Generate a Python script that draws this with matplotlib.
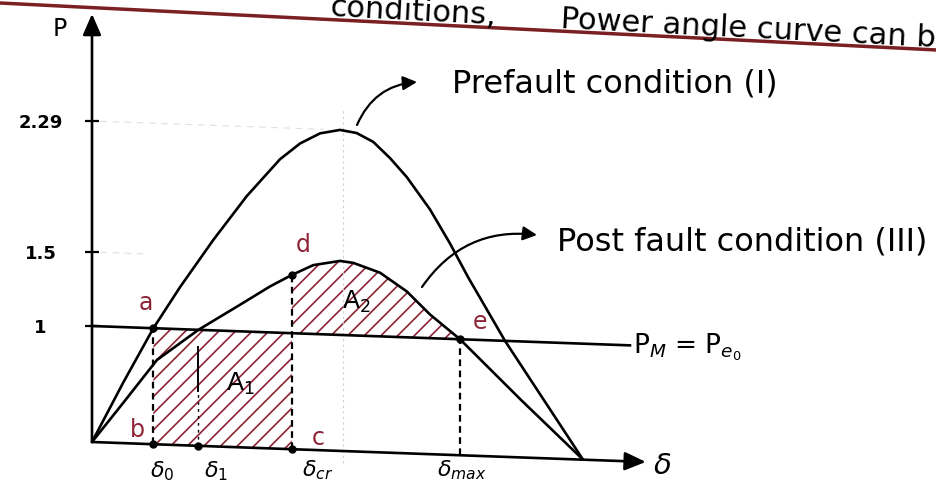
import numpy as np
import matplotlib
matplotlib.use("Agg")
import matplotlib.pyplot as plt
from matplotlib.lines import Line2D
from matplotlib.transforms import Affine2D

# Power-angle curves: load angle delta (deg) and electrical power P (p.u.)
delta_pre = [0, 11.4, 22.5, 32.3, 44.5, 56.7, 68.9, 76.3, 83.6, 90.9, 97.0,
             103.1, 109.3, 115.4, 123.9, 131.2, 137.9, 151.4, 165.7, 180]
p_pre = [0, 0.52, 1.0, 1.285, 1.60, 1.87, 2.10, 2.20, 2.265, 2.29, 2.275,
         2.225, 2.13, 2.02, 1.83, 1.63, 1.42, 1.0, 0.5, 0]

delta_post = [0, 11.4, 23.8, 39.0, 54.3, 65.2, 73.2, 81.1, 90.9, 95.8, 105.6,
              115.4, 123.9, 134.9, 157.3, 180]
p_post = [0, 0.346, 0.727, 1.0, 1.18, 1.31, 1.393, 1.465, 1.5, 1.49, 1.43,
          1.31, 1.16, 1.0, 0.495, 0]

# Mechanical input power and characteristic angles
p_mech = 1.0
delta_0 = 22.5
delta_1 = 39.0
delta_cr = 73.2
p_d = 1.393
delta_max = 134.9

y_ticks = [1, 1.5, 2.29]
y_tick_labels = ["1", "1.5", "2.29"]

RED = "#8e2436"
W, H = 937, 483
plt.rcParams["hatch.linewidth"] = 1.2
fig = plt.figure(figsize=(W / 100, H / 100), dpi=100)
fig.patch.set_facecolor("white")
ax = fig.add_axes([0, 0, 1, 1])
ax.set_facecolor("none")

# hand-sketched vertical axis: piecewise spacing between the marked levels
P_KNOTS = [-1.0, 0.0, 1.0, 1.5, 2.29, 3.5]
H_KNOTS = [-116.0, 0.0, 116.0, 190.0, 321.0, 521.9]


def fwd(p):
    return np.interp(p, P_KNOTS, H_KNOTS)


def inv(h):
    return np.interp(h, H_KNOTS, P_KNOTS)


ax.set_yscale("function", functions=(fwd, inv))
px_per_deg = 2.728
x0_px, y0_px = 92, 442
ax.set_xlim(-x0_px / px_per_deg, (W - x0_px) / px_per_deg)
ax.set_ylim(inv(-(H - y0_px)), inv(y0_px))

# the sheet is slightly slanted: shear everything drawn in data space
k = 0.036
shear = Affine2D(np.array([[1, 0, 0], [-k, 1, k * x0_px], [0, 0, 1]]))
T = ax.transData + shear

for s in ax.spines.values():
    s.set_visible(False)
ax.spines["left"].set_position(("data", 0))
ax.set_xticks([])
ax.set_yticks(y_ticks)
ax.set_yticklabels(y_tick_labels, ha="center", fontsize=13, fontweight="bold")
ax.tick_params(axis="y", direction="inout", length=10, width=1.6, pad=32)
ax.yaxis.set_minor_locator(matplotlib.ticker.NullLocator())

# faint pencil guides
ax.plot([92, 92], [-0.1, 2.42], transform=T, color="#cfcfcf", lw=0.8, ls=(0, (2, 3)))
ax.plot([3, 85], [2.29, 2.29], transform=T, color="#e0e0e0", lw=0.8, ls=(0, (6, 5)))
ax.plot([3, 20], [1.5, 1.5], transform=T, color="#e0e0e0", lw=0.8, ls=(0, (6, 5)))

# hatched accelerating (A1) and decelerating (A2) areas
ax.fill_between([delta_0, delta_cr], 0, p_mech, transform=T, facecolor="none",
                edgecolor=RED, hatch="//", linewidth=0)
dp = np.array(delta_post)
pp = np.array(p_post)
sel = (dp >= delta_cr) & (dp <= delta_max)
ax.fill_between(dp[sel], p_mech, pp[sel], transform=T, facecolor="none",
                edgecolor=RED, hatch="//", linewidth=0)

# curves
curve_kw = dict(transform=T, color="black", lw=1.9, solid_joinstyle="round",
                solid_capstyle="round")
ax.plot(delta_pre, p_pre, **curve_kw)
ax.plot(delta_post, p_post, **curve_kw)

# Pm line
ax.plot([0, 197.2], [p_mech, p_mech], transform=T, color="black", lw=1.9)

# vertical markers
dash = (0, (3, 2))
ax.plot([delta_0, delta_0], [0, p_mech], transform=T, color="black", lw=1.6, ls=dash)
ax.plot([delta_cr, delta_cr], [0, p_d], transform=T, color="black", lw=1.6, ls=dash)
ax.plot([delta_max, delta_max], [0, p_mech], transform=T, color="black", lw=1.6, ls=dash)
ax.plot([delta_1, delta_1], [0.47, 0.85], transform=T, color="black", lw=1.4)
ax.plot([delta_1, delta_1], [0, 0.47], transform=T, color="black", lw=1.0, ls=(0, (2, 3)))

# marked points
ax.plot([delta_0, delta_0, delta_1, delta_cr, delta_cr, delta_max],
        [p_mech, 0, 0, 0, p_d, p_mech], "o", transform=T, color="black", ms=5)

# axes with arrow heads
arrow = dict(arrowstyle="-|>,head_length=0.8,head_width=0.35", color="black",
             lw=1.9, mutation_scale=16, shrinkA=0, shrinkB=0)
ax.annotate("", xy=(0, 2.935), xytext=(0, 0), xycoords=T, textcoords=T, arrowprops=arrow)
ax.annotate("", xy=(203, 0), xytext=(0, 0), xycoords=T, textcoords=T, arrowprops=arrow)


def fp(x, y):
    return (x, H - y)


def label(x, y, s, va="center", **kw):
    kw.setdefault("fontsize", 15)
    kw.setdefault("color", "black")
    ax.annotate(s, xy=fp(x, y), xycoords="figure pixels", ha="center", va=va, **kw)


label(60, 29, "P", fontsize=17)
label(662, 466, r"$\delta$", fontsize=21)
label(162, 471, r"$\delta_0$", fontsize=16)
label(216, 471, r"$\delta_1$", fontsize=16)
label(318, 482, r"$\delta_{cr}$", va="bottom", fontsize=16)
label(462, 482, r"$\delta_{max}$", va="bottom", fontsize=16)

label(146, 303, "a", color=RED, fontsize=17)
label(137, 430, "b", color=RED, fontsize=17)
label(318, 438, "c", color=RED, fontsize=17)
label(303, 245, "d", color=RED, fontsize=17)
label(480, 322, "e", color=RED, fontsize=17)
label(240, 384, r"A$_1$", fontsize=18)
label(356, 302, r"A$_2$", fontsize=18)

ax.annotate("Prefault condition (I)", xy=fp(452, 84), xycoords="figure pixels",
            ha="left", va="center", fontsize=23)
ax.annotate("Post fault condition (III)", xy=fp(557, 242), xycoords="figure pixels",
            ha="left", va="center", fontsize=23)
ax.annotate(r"P$_M$ = P$_{e_0}$", xy=fp(633, 347), xycoords="figure pixels",
            ha="left", va="center", fontsize=19)

# curved leader arrows
lead = dict(arrowstyle="-|>,head_length=0.6,head_width=0.3", color="black",
            lw=1.6, mutation_scale=14, shrinkA=0, shrinkB=0,
            connectionstyle="arc3,rad=-0.3")
ax.annotate("", xy=fp(417, 82), xytext=fp(357, 125), xycoords="figure pixels",
            textcoords="figure pixels", arrowprops=lead)
ax.annotate("", xy=fp(537, 235), xytext=fp(422, 287), xycoords="figure pixels",
            textcoords="figure pixels", arrowprops=lead)

# ruled line and heading text at the top of the page
fig.add_artist(Line2D([0, 1], [1 - 3 / H, 1 - 50 / H], color="#7a1f22", lw=2.5))
fig.text(330 / W, 1 - 16 / H, "conditions,", fontsize=22,
         rotation=-2.9, rotation_mode="anchor", ha="left", va="baseline")
fig.text(560 / W, 1 - 28 / H, "Power angle curve can be", fontsize=22,
         rotation=-2.9, rotation_mode="anchor", ha="left", va="baseline")

fig.savefig("out.png", dpi=100)
